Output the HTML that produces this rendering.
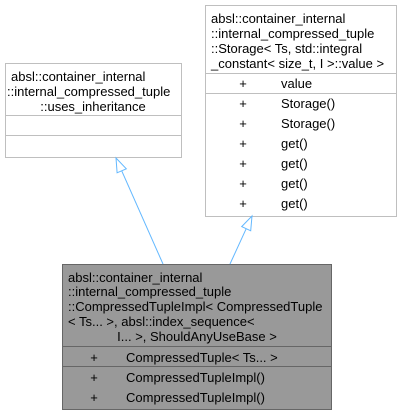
<!DOCTYPE html>
<html><head><meta charset="utf-8"><style>
html,body{margin:0;padding:0;background:#fff;}
svg{display:block;}
text{font-family:"Liberation Sans",Arial,sans-serif;font-size:13px;fill:#000;}
</style></head><body>
<svg width="403" height="415" viewBox="0 0 403 415" xmlns="http://www.w3.org/2000/svg">
<rect x="5.5" y="63.5" width="176" height="94" fill="#fff" stroke="#bfbfbf"/>
<text x="11" y="81">absl::container_internal</text>
<text x="7" y="96">::internal_compressed_tuple</text>
<text x="93" y="111" text-anchor="middle">::uses_inheritance</text>
<line x1="5" y1="115.5" x2="181" y2="115.5" stroke="#bfbfbf"/>
<line x1="5" y1="135.5" x2="181" y2="135.5" stroke="#bfbfbf"/>
<rect x="205.5" y="5.5" width="191" height="211" fill="#fff" stroke="#bfbfbf"/>
<text x="211" y="23">absl::container_internal</text>
<text x="211" y="38">::internal_compressed_tuple</text>
<text x="211" y="53">::Storage&lt; Ts, std::integral</text>
<text x="211" y="68">_constant&lt; size_t, I &gt;::value &gt;</text>
<line x1="205" y1="73.5" x2="397" y2="73.5" stroke="#bfbfbf"/>
<line x1="205" y1="93.5" x2="397" y2="93.5" stroke="#bfbfbf"/>
<g>
<text x="243" y="88" text-anchor="middle">+</text><text x="281" y="88">value</text>
<text x="243" y="108" text-anchor="middle">+</text><text x="281" y="108">Storage()</text>
<text x="243" y="128" text-anchor="middle">+</text><text x="281" y="128">Storage()</text>
<text x="243" y="148" text-anchor="middle">+</text><text x="281" y="148">get()</text>
<text x="243" y="168" text-anchor="middle">+</text><text x="281" y="168">get()</text>
<text x="243" y="188" text-anchor="middle">+</text><text x="281" y="188">get()</text>
<text x="243" y="208" text-anchor="middle">+</text><text x="281" y="208">get()</text>
</g>
<rect x="62.5" y="264.5" width="269" height="145" fill="#999" stroke="#666"/>
<text x="68" y="282">absl::container_internal</text>
<text x="68" y="296">::internal_compressed_tuple</text>
<text x="68" y="311">::CompressedTupleImpl&lt; CompressedTuple</text>
<text x="68" y="326">&lt; Ts... &gt;, absl::index_sequence&lt;</text>
<text x="197" y="341" text-anchor="middle">I... &gt;, ShouldAnyUseBase &gt;</text>
<line x1="62" y1="346.5" x2="332" y2="346.5" stroke="#666"/>
<line x1="62" y1="366.5" x2="332" y2="366.5" stroke="#666"/>
<text x="94" y="362" text-anchor="middle">+</text><text x="126" y="362">CompressedTuple&lt; Ts... &gt;</text>
<text x="94" y="382" text-anchor="middle">+</text><text x="126" y="382">CompressedTupleImpl()</text>
<text x="94" y="402" text-anchor="middle">+</text><text x="126" y="402">CompressedTupleImpl()</text>
<line x1="163" y1="264" x2="121.7" y2="170.8" stroke="#63b8ff"/>
<polygon points="116,158 126.3,168.8 117.1,172.8" fill="#fff" stroke="#63b8ff"/>
<line x1="230" y1="264" x2="246.2" y2="228.7" stroke="#63b8ff"/>
<polygon points="252,216 250.7,230.8 241.7,226.6" fill="#fff" stroke="#63b8ff"/>
</svg>
</body></html>
